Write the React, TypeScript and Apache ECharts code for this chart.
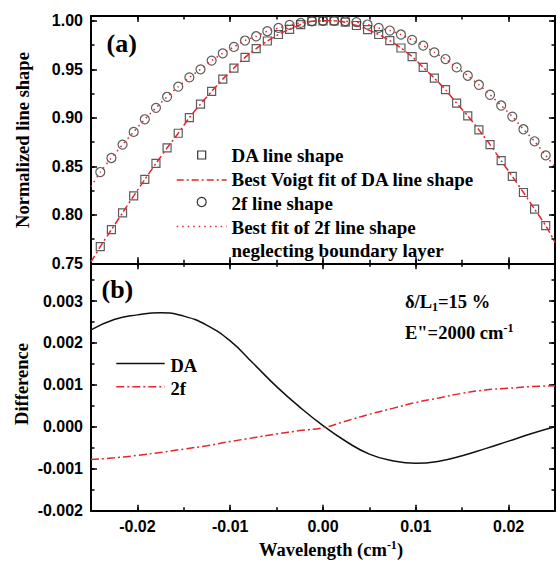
import React, { useEffect, useRef } from "react";
import * as echarts from "echarts";

// ---------- Panel (a): normalized line shapes ----------
const SHAPE_X = [
  -0.024, -0.0228, -0.0216, -0.0204, -0.0192, -0.018, -0.0168, -0.0156, -0.0144, -0.0132,
  -0.012, -0.0108, -0.0096, -0.0084, -0.0072, -0.006, -0.0048, -0.0036, -0.0024, -0.0012,
  0, 0.0012, 0.0024, 0.0036, 0.0048, 0.006, 0.0072, 0.0084, 0.0096, 0.0108,
  0.012, 0.0132, 0.0144, 0.0156, 0.0168, 0.018, 0.0192, 0.0204, 0.0216, 0.0228, 0.024,
];
const DA_SHAPE = [
  0.7672, 0.7848, 0.802, 0.8196, 0.8365, 0.853, 0.869, 0.8841, 0.9003, 0.9141,
  0.9272, 0.9399, 0.9513, 0.9624, 0.9714, 0.9792, 0.9859, 0.9913, 0.9962, 0.9996,
  1.0, 1.0, 0.9986, 0.9952, 0.991, 0.9859, 0.9797, 0.972, 0.9631, 0.952,
  0.941, 0.929, 0.9151, 0.9021, 0.8876, 0.8724, 0.8558, 0.8396, 0.823, 0.8059, 0.7889,
];
const F2_SHAPE = [
  0.8441, 0.8586, 0.8724, 0.8855, 0.8985, 0.9103, 0.9217, 0.9321, 0.9417, 0.95,
  0.959, 0.9665, 0.9731, 0.9797, 0.9841, 0.9893, 0.9927, 0.9958, 0.9979, 0.9996,
  1.0, 1.0, 0.9996, 0.9986, 0.9962, 0.9927, 0.99, 0.9859, 0.9803, 0.9745,
  0.9675, 0.9606, 0.952, 0.9434, 0.9341, 0.9238, 0.9127, 0.9013, 0.8882, 0.8758, 0.8613,
];
// fit curve end values at the frame edges
const DA_FIT_EDGE_X = [-0.025, 0.025];
const DA_FIT_EDGE_Y = [0.7515, 0.7715];
const F2_FIT_EDGE_X = [-0.025, 0.025];
const F2_FIT_EDGE_Y = [0.829, 0.849];

// ---------- Panel (b): differences ----------
const DIFF_X = [
  -0.025, -0.0225, -0.02, -0.0175, -0.015, -0.0125, -0.01, -0.0075, -0.005, -0.0025,
  0, 0.0025, 0.005, 0.0075, 0.01, 0.0125, 0.015, 0.0175, 0.02, 0.0225, 0.025,
];
const DA_DIFF = [
  0.00231, 0.00256, 0.00267, 0.00272, 0.00264, 0.00242, 0.00205, 0.00151, 0.00096, 0.00047,
  0.00003, -0.00035, -0.00065, -0.00081, -0.00087, -0.00082, -0.00069, -0.00052, -0.00034, -0.00016, 0.0,
];
const F2_DIFF = [
  -0.00078, -0.00074, -0.00068, -0.00061, -0.00053, -0.00045, -0.00035, -0.00026, -0.00017, -0.00009,
  -0.00002, 0.00014, 0.0003, 0.00044, 0.00058, 0.00069, 0.0008, 0.00088, 0.00092, 0.00096, 0.00098,
];

const RED = "#e3262c";
const SANS = "Liberation Sans";
const SERIF = "Liberation Serif";

function fmt(digits: number) {
  return (v: number) => (Math.abs(v) < 1e-12 ? 0 : v).toFixed(digits);
}

function makeAxis(
  kind: "x" | "y",
  gridIndex: number,
  position: string,
  major: boolean,
  min: number,
  max: number,
  interval: number | undefined,
  labels: null | ((v: number) => string)
) {
  const ax: any = {
    type: "value",
    gridIndex,
    position,
    min,
    max,
    scale: true,
    splitLine: { show: false },
    axisLine: { show: major, onZero: false, lineStyle: { color: "#000", width: 2 } },
    axisTick: {
      show: true,
      inside: true,
      length: major ? 6 : 3.5,
      lineStyle: { color: "#000", width: 1.5 },
    },
    axisLabel: labels
      ? {
          show: true,
          formatter: labels,
          fontFamily: SANS,
          fontWeight: "bold",
          fontSize: 16,
          color: "#000",
          margin: 8,
          showMinLabel: kind === "x" ? false : true,
          showMaxLabel: false,
        }
      : { show: false },
  };
  if (interval !== undefined) ax.interval = interval;
  else ax.splitNumber = 5;
  return ax;
}

export default function App() {
  const ref = useRef<HTMLDivElement>(null);

  useEffect(() => {
    document.body.style.margin = "0";
    if (!ref.current) return;
    const chart = echarts.init(ref.current, undefined, { renderer: "svg" });

    const xMin = -0.025;
    const xMax = 0.025;

    const xAxis = [
      // grid 0
      makeAxis("x", 0, "bottom", true, xMin, xMax, undefined, null),
      makeAxis("x", 0, "bottom", false, xMin, xMax, 0.005, null),
      makeAxis("x", 0, "top", true, xMin, xMax, undefined, null),
      makeAxis("x", 0, "top", false, xMin, xMax, 0.005, null),
      // grid 1
      makeAxis("x", 1, "bottom", true, xMin, xMax, undefined, fmt(2)),
      makeAxis("x", 1, "bottom", false, xMin, xMax, 0.005, null),
      makeAxis("x", 1, "top", true, xMin, xMax, undefined, null),
      makeAxis("x", 1, "top", false, xMin, xMax, 0.005, null),
    ];
    const yAxis = [
      makeAxis("y", 0, "left", true, 0.75, 1.005, 0.05, fmt(2)),
      makeAxis("y", 0, "left", false, 0.75, 1.005, 0.025, null),
      makeAxis("y", 0, "right", true, 0.75, 1.005, 0.05, null),
      makeAxis("y", 0, "right", false, 0.75, 1.005, 0.025, null),
      makeAxis("y", 1, "left", true, -0.002, 0.0039, 0.001, fmt(3)),
      makeAxis("y", 1, "left", false, -0.002, 0.0039, 0.0005, null),
      makeAxis("y", 1, "right", true, -0.002, 0.0039, 0.001, null),
      makeAxis("y", 1, "right", false, -0.002, 0.0039, 0.0005, null),
    ];

    const daPts = SHAPE_X.map((x, i) => [x, DA_SHAPE[i]]);
    const f2Pts = SHAPE_X.map((x, i) => [x, F2_SHAPE[i]]);
    const daFit = [[DA_FIT_EDGE_X[0], DA_FIT_EDGE_Y[0]], ...daPts, [DA_FIT_EDGE_X[1], DA_FIT_EDGE_Y[1]]];
    const f2Fit = [[F2_FIT_EDGE_X[0], F2_FIT_EDGE_Y[0]], ...f2Pts, [F2_FIT_EDGE_X[1], F2_FIT_EDGE_Y[1]]];

    const serifText = (size: number) => ({
      fontFamily: SERIF,
      fontWeight: "bold",
      fontSize: size,
      fill: "#000",
    });

    const textEl = (text: string, x: number, y: number, size: number, align = "left", extra: any = {}) => ({
      type: "text",
      x,
      y,
      silent: true,
      ...extra,
      style: {
        text,
        ...serifText(size),
        align,
        verticalAlign: "middle",
        textAlign: align,
        textVerticalAlign: "middle",
        ...(extra.style || {}),
      },
    });

    const legendRows = [
      "DA line shape",
      "Best Voigt fit of DA line shape",
      "2f line shape",
      "Best fit of 2f line shape",
      "neglecting boundary layer",
    ];
    const legendY = [155.7, 179.5, 203.3, 227.2, 250.5];

    const graphic: any[] = [
      // axis titles
      {
        type: "text",
        x: 22.5,
        y: 140,
        rotation: Math.PI / 2,
        silent: true,
        style: {
          text: "Normalized line shape",
          ...serifText(18.5),
          align: "center",
          verticalAlign: "middle",
          textAlign: "center",
          textVerticalAlign: "middle",
        },
      },
      {
        type: "text",
        x: 22,
        y: 384,
        rotation: Math.PI / 2,
        silent: true,
        style: {
          text: "Difference",
          ...serifText(18.5),
          align: "center",
          verticalAlign: "middle",
          textAlign: "center",
          textVerticalAlign: "middle",
        },
      },
      {
        type: "text",
        x: 331,
        y: 550,
        silent: true,
        style: {
          text: "Wavelength (cm{sup|-1})",
          ...serifText(18.5),
          lineHeight: 22,
          align: "center",
          verticalAlign: "middle",
          textAlign: "center",
          textVerticalAlign: "middle",
          rich: {
            sup: { fontFamily: SERIF, fontWeight: "bold", fontSize: 12, lineHeight: 22, verticalAlign: "top", fill: "#000" },
          },
        },
      },
      // panel labels
      textEl("(a)", 106.5, 43, 26),
      textEl("(b)", 101.5, 289.5, 26),
      // annotations panel b
      {
        type: "text",
        x: 405,
        y: 302,
        silent: true,
        style: {
          text: "δ/L{sub|1}=15 %",
          ...serifText(18.5),
          lineHeight: 22,
          align: "left",
          verticalAlign: "middle",
          textAlign: "left",
          textVerticalAlign: "middle",
          rich: {
            sub: { fontFamily: SERIF, fontWeight: "bold", fontSize: 12, lineHeight: 22, verticalAlign: "bottom", fill: "#000" },
          },
        },
      },
      {
        type: "text",
        x: 405,
        y: 333,
        silent: true,
        style: {
          text: 'E"=2000 cm{sup|-1}',
          ...serifText(18.5),
          lineHeight: 22,
          align: "left",
          verticalAlign: "middle",
          textAlign: "left",
          textVerticalAlign: "middle",
          rich: {
            sup: { fontFamily: SERIF, fontWeight: "bold", fontSize: 12, lineHeight: 22, verticalAlign: "top", fill: "#000" },
          },
        },
      },
      // legend panel a
      {
        type: "rect",
        silent: true,
        shape: { x: 197.7, y: 151, width: 8, height: 8 },
        style: { fill: "none", stroke: "#333", lineWidth: 1.2 },
      },
      {
        type: "line",
        silent: true,
        shape: { x1: 176.7, y1: 180, x2: 226.7, y2: 180 },
        style: { stroke: RED, lineWidth: 1.5, lineDash: [7, 3, 2, 3] },
      },
      {
        type: "circle",
        silent: true,
        shape: { cx: 201.7, cy: 202, r: 4.5 },
        style: { fill: "none", stroke: "#333", lineWidth: 1.2 },
      },
      {
        type: "line",
        silent: true,
        shape: { x1: 176.7, y1: 226.5, x2: 226.7, y2: 226.5 },
        style: { stroke: RED, lineWidth: 1.5, lineDash: [1.5, 4] },
      },
      ...legendRows.map((t, i) => textEl(t, 231.5, legendY[i], 19)),
      // legend panel b
      {
        type: "line",
        silent: true,
        shape: { x1: 116.3, y1: 363.5, x2: 164.7, y2: 363.5 },
        style: { stroke: "#111", lineWidth: 1.5 },
      },
      {
        type: "line",
        silent: true,
        shape: { x1: 116.3, y1: 386.7, x2: 164.7, y2: 386.7 },
        style: { stroke: RED, lineWidth: 1.5, lineDash: [8, 3, 2, 3] },
      },
      textEl("DA", 170.5, 365.5, 18.5),
      textEl("2f", 170.5, 389, 18.5),
    ];

    chart.setOption({
      animation: false,
      backgroundColor: "#fff",
      grid: [
        { left: 91, top: 16, width: 464, height: 247.3 },
        { left: 91, top: 263.3, width: 464, height: 247.4 },
      ],
      xAxis,
      yAxis,
      series: [
        {
          name: "DA line shape",
          type: "scatter",
          xAxisIndex: 0,
          yAxisIndex: 0,
          data: daPts,
          symbol: "rect",
          symbolSize: 8,
          itemStyle: { color: "rgba(0,0,0,0)", borderColor: "#333", borderWidth: 1.2 },
          z: 2,
        },
        {
          name: "2f line shape",
          type: "scatter",
          xAxisIndex: 0,
          yAxisIndex: 0,
          data: f2Pts,
          symbol: "circle",
          symbolSize: 9,
          itemStyle: { color: "rgba(0,0,0,0)", borderColor: "#333", borderWidth: 1.2 },
          z: 2,
        },
        {
          name: "Best Voigt fit of DA line shape",
          type: "line",
          xAxisIndex: 0,
          yAxisIndex: 0,
          data: daFit,
          showSymbol: false,
          symbol: "none",
          smooth: 0.2,
          lineStyle: { color: RED, width: 1.5, type: [7, 3, 2, 3] },
          z: 3,
        },
        {
          name: "Best fit of 2f line shape",
          type: "line",
          xAxisIndex: 0,
          yAxisIndex: 0,
          data: f2Fit,
          showSymbol: false,
          symbol: "none",
          smooth: 0.2,
          lineStyle: { color: RED, width: 1.5, type: [1.5, 4] },
          z: 3,
        },
        {
          name: "DA",
          type: "line",
          xAxisIndex: 4,
          yAxisIndex: 4,
          data: DIFF_X.map((x, i) => [x, DA_DIFF[i]]),
          showSymbol: false,
          symbol: "none",
          smooth: true,
          lineStyle: { color: "#111", width: 1.5 },
        },
        {
          name: "2f",
          type: "line",
          xAxisIndex: 4,
          yAxisIndex: 4,
          data: DIFF_X.map((x, i) => [x, F2_DIFF[i]]),
          showSymbol: false,
          symbol: "none",
          smooth: true,
          lineStyle: { color: RED, width: 1.5, type: [8, 3, 2, 3] },
        },
      ],
      graphic,
    });

    return () => {
      chart.dispose();
    };
  }, []);

  return <div ref={ref} style={{ width: 557, height: 561 }} />;
}
